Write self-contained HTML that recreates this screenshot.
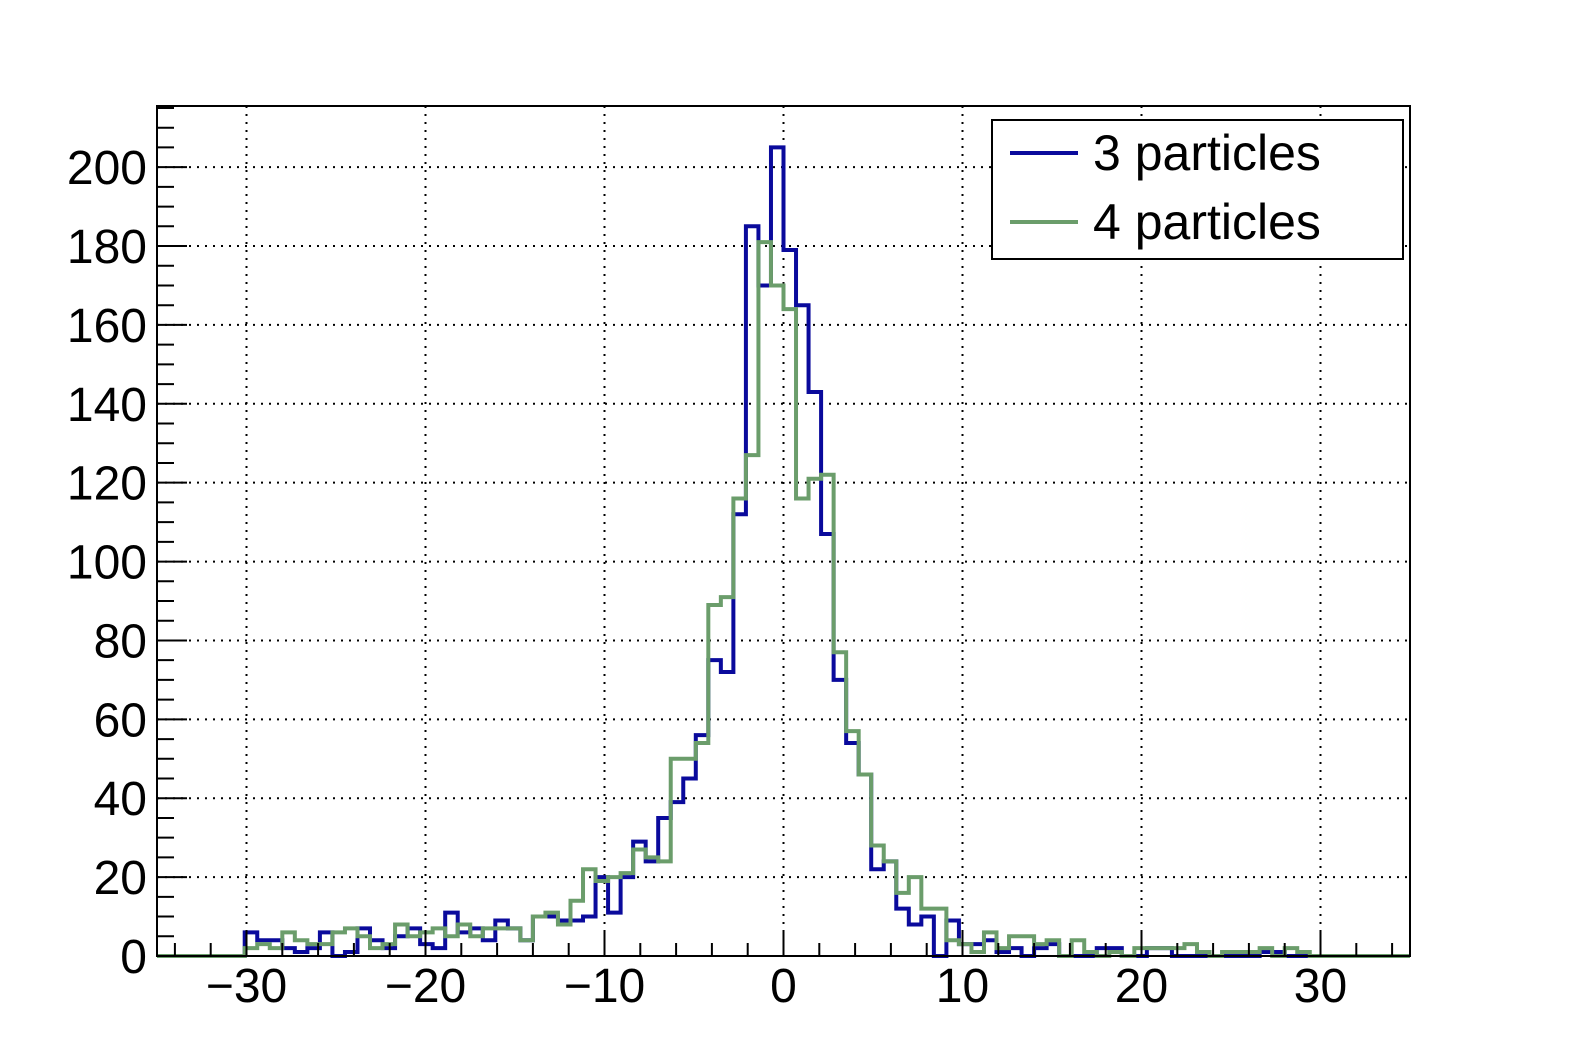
<!DOCTYPE html>
<html><head><meta charset="utf-8"><style>
html,body{margin:0;padding:0;background:#fff;}
svg{display:block;font-family:"Liberation Sans",sans-serif;}
</style></head><body>
<svg id="chart" width="1575" height="1064" viewBox="0 0 1575 1064" xmlns="http://www.w3.org/2000/svg">
<rect x="0" y="0" width="1575" height="1064" fill="#fff"/>
<g id="grid"></g>
<g id="series"></g>
<g id="axes"></g>
<g>
<rect x="992" y="120" width="411" height="139" fill="#fff" stroke="#000" stroke-width="2"/>
<line x1="1010" y1="153" x2="1078" y2="153" stroke="#0a0a9c" stroke-width="4"/>
<text x="1093" y="170" font-size="50">3 particles</text>
<line x1="1010" y1="222" x2="1078" y2="222" stroke="#6b9d6b" stroke-width="4"/>
<text x="1093" y="239" font-size="50">4 particles</text>
</g>
</svg>
<script>
const binLow = -35, binWidth = 0.7, firstFilledBin = 7;
const xTicks = [-30, -20, -10, 0, 10, 20, 30];
const xTickLabels = ["\u221230", "\u221220", "\u221210", "0", "10", "20", "30"];
const yTicks = [0, 20, 40, 60, 80, 100, 120, 140, 160, 180, 200];
const yTickLabels = ["0","20","40","60","80","100","120","140","160","180","200"];
const blueCounts = [6,4,4,2,1,2,6,0,1,7,4,2,5,7,3,2,11,6,7,4,9,7,4,10,10,9,9,10,20,11,20,29,24,35,39,45,56,75,72,112,185,170,205,179,165,143,107,70,54,46,22,24,12,8,10,0,9,3,3,4,1,2,0,2,3,0,0,0,2,2,0,0,2,2,0,0,0,0,0,0,0,1,1,0,0,0];
const greenCounts = [2,3,2,6,4,3,3,6,7,5,2,3,8,5,6,7,5,8,5,7,7,7,4,10,11,8,14,22,19,20,21,27,25,24,50,50,54,89,91,116,127,181,170,164,116,121,122,77,57,46,28,24,16,20,12,12,4,3,1,6,2,5,5,3,4,0,4,1,0,1,0,2,2,2,2,3,1,0,1,1,1,2,0,2,1,0];

const X0 = 157, X1 = 1410, Y0 = 956, Y1 = 106;
const xMin = -35, xMax = 35, yMin = 0, yMax = 215.5;
function xs(v){ return X0 + (v - xMin) / (xMax - xMin) * (X1 - X0); }
function ys(v){ return Y0 - (v - yMin) / (yMax - yMin) * (Y0 - Y1); }
const NS = "http://www.w3.org/2000/svg";
function mk(tag, attrs, parent){ const e = document.createElementNS(NS, tag); for (const k in attrs) e.setAttribute(k, attrs[k]); parent.appendChild(e); return e; }
const grid = document.getElementById('grid'), series = document.getElementById('series'), axes = document.getElementById('axes');

xTicks.forEach(function(t){
  const g = mk('line', {x1: xs(t), x2: xs(t), y1: Y1, y2: Y0, stroke: '#000', 'stroke-width': 2, 'stroke-dasharray': '2,6'}, grid);
  
  
});
yTicks.slice(1).forEach(function(t){
  const g = mk('line', {x1: X0, x2: X1, y1: ys(t), y2: ys(t), stroke: '#000', 'stroke-width': 2, 'stroke-dasharray': '2,6'}, grid);
  
  
});

function histPath(counts){
  let d = 'M' + xs(xMin) + ',' + ys(0) + ' L' + xs(binLow + firstFilledBin * binWidth) + ',' + ys(0);
  counts.forEach(function(c, i){
    const a = binLow + (firstFilledBin + i) * binWidth, b = a + binWidth;
    d += ' L' + xs(a) + ',' + ys(c) + ' L' + xs(b) + ',' + ys(c);
  });
  d += ' L' + xs(binLow + (firstFilledBin + counts.length) * binWidth) + ',' + ys(0) + ' L' + xs(xMax) + ',' + ys(0);
  return d;
}
const pb = mk('path', {d: histPath(blueCounts), fill: 'none', stroke: '#0a0a9c', 'stroke-width': 4, 'stroke-linejoin': 'miter'}, series);


const pg = mk('path', {d: histPath(greenCounts), fill: 'none', stroke: '#6b9d6b', 'stroke-width': 4, 'stroke-linejoin': 'miter'}, series);



const frame = mk('rect', {x: X0, y: Y1, width: X1 - X0, height: Y0 - Y1, fill: 'none', stroke: '#000', 'stroke-width': 2}, axes);



for (let v = -34; v <= 34; v += 2) {
  const len = (v % 10 === 0) ? 26 : 13;
  const t = mk('line', {x1: xs(v), x2: xs(v), y1: Y0, y2: Y0 - len, stroke: '#000', 'stroke-width': 2}, axes);
  
  
}
for (let v = 0; v <= 215; v += 5) {
  const len = (v % 20 === 0) ? 30 : 17;
  const t = mk('line', {x1: X0, x2: X0 + len, y1: ys(v), y2: ys(v), stroke: '#000', 'stroke-width': 2}, axes);
  
  
}
xTicks.forEach(function(t, i){
  const tx = mk('text', {x: xs(t), y: 1002, 'font-size': 48, 'text-anchor': 'middle'}, axes);
  tx.textContent = xTickLabels[i];
  
  
});
yTicks.forEach(function(t, i){
  const tx = mk('text', {x: 147, y: ys(t) + 17, 'font-size': 48, 'text-anchor': 'end'}, axes);
  tx.textContent = yTickLabels[i];
  
  
});
</script>
</body></html>
